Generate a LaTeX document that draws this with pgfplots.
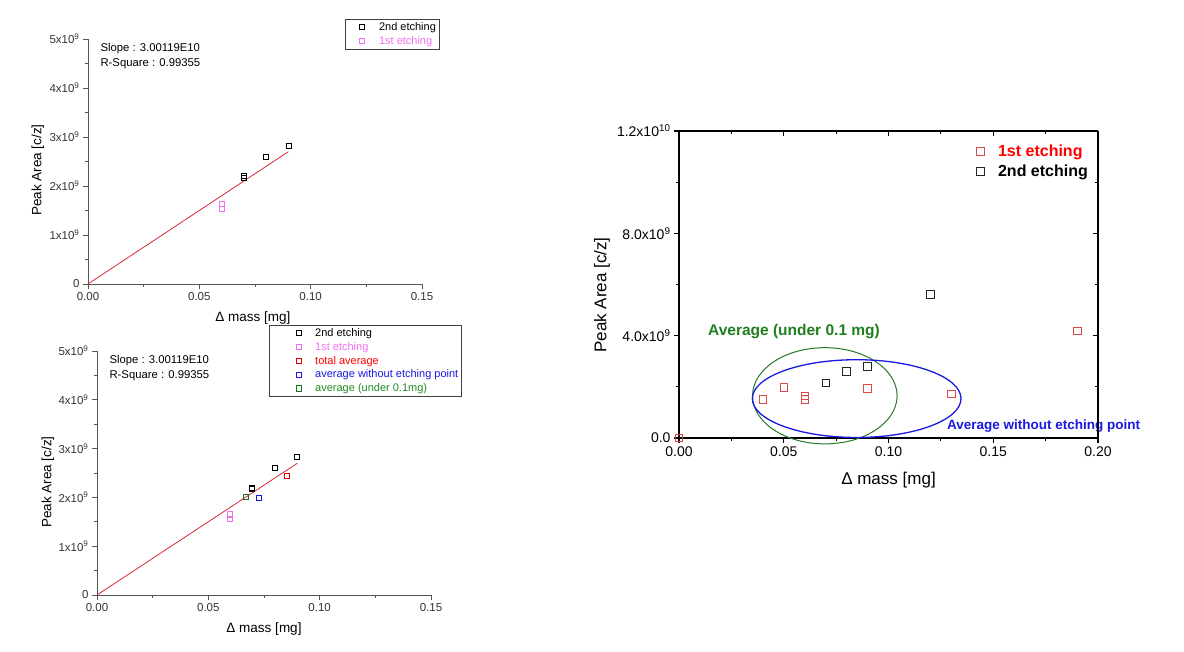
\documentclass[border=0pt]{standalone}
\usepackage{fontspec}
\setmainfont{Liberation Sans}
\usepackage{pgfplots}
\pgfplotsset{compat=1.18}
\definecolor{pinkc}{RGB}{240,110,240}
\definecolor{fitred}{RGB}{215,40,55}
\definecolor{redm}{RGB}{225,70,70}
\definecolor{axgray}{RGB}{85,85,85}
\definecolor{grn}{RGB}{35,140,35}
\definecolor{grnell}{RGB}{40,120,40}
\definecolor{blu}{RGB}{25,25,225}
\pgfplotsset{
 lp/.style={
  scale only axis, width=334pt, anchor=south west,
  axis lines=left, axis line style={-, draw=axgray, line width=0.9pt},
  x axis line style={-}, y axis line style={-},
  xmin=0, xmax=0.15, ymin=0, ymax=5,
  xtick={0,0.05,0.1,0.15}, xticklabels={0.00,0.05,0.10,0.15},
  ytick={0,1,2,3,4,5},
  yticklabels={0,1x10\textsuperscript{9},2x10\textsuperscript{9},3x10\textsuperscript{9},4x10\textsuperscript{9},5x10\textsuperscript{9}},
  minor x tick num=1, minor y tick num=1,
  tick align=outside, major tick length=5pt, minor tick length=3pt,
  every tick/.style={draw=axgray, line width=0.9pt},
  tick label style={font=\fontsize{11.5}{13}\selectfont, text=black!80},
  label style={font=\fontsize{13.5}{16}\selectfont},
  xlabel={Δ mass [mg]},
  ylabel={Peak Area [c/z]},
  legend cell align=left,
  clip=false,
 },
}
\begin{document}
\begin{tikzpicture}[x=1pt,y=1pt]
\useasboundingbox (0,0) rectangle (1184,652);

% ---------------- top-left panel ----------------
\begin{axis}[lp, at={(88pt,368pt)}, height=245pt,
  xlabel style={at={(axis description cs:0.494,-0.1375)}, anchor=center},
  ylabel style={at={(axis description cs:-0.15,0.465)}, anchor=center},
  legend style={at={(0.769,1.082)}, anchor=north west, draw=black!75, fill=white,
     inner sep=1pt, font=\fontsize{11}{13}\selectfont,
     nodes={inner xsep=2pt, inner ysep=2.2pt}, row sep=0pt},
  legend image code/.code={\path[draw=none,fill=none] (0pt,-2pt) rectangle (31pt,2pt); \draw[#1] plot coordinates {(16pt,0pt)};},
]
\addplot[fitred, line width=0.8pt, forget plot] coordinates {(0,0) (0.09,2.701)};
\addplot[only marks, mark=square, mark size=2.6pt, black, mark options={solid, line width=0.6pt}]
  coordinates {(0.07,2.20) (0.07,2.17) (0.08,2.60) (0.09,2.82)};
\addlegendentry{2nd etching}
\addplot[only marks, mark=square, mark size=2.6pt, pinkc, mark options={solid, line width=0.6pt}]
  coordinates {(0.06,1.64) (0.06,1.54)};
\addlegendentry{\textcolor{pinkc}{1st etching}}
\node[anchor=west, font=\fontsize{11.3}{13}\selectfont] at (axis description cs:0.027,0.959) {Slope : 3.00119E10};
\node[anchor=west, font=\fontsize{11.3}{13}\selectfont] at (axis description cs:0.027,0.898) {R-Square : 0.99355};
\end{axis}

% ---------------- bottom-left panel ----------------
\begin{axis}[lp, at={(97pt,57pt)}, height=244pt,
  xlabel style={at={(axis description cs:0.5,-0.139)}, anchor=center},
  ylabel style={at={(axis description cs:-0.147,0.463)}, anchor=center},
  legend style={at={(0.515,1.107)}, anchor=north west, draw=black!75, fill=white,
     inner sep=1pt, font=\fontsize{11}{13}\selectfont,
     nodes={inner xsep=2pt, inner ysep=2.2pt}, row sep=0pt},
  legend image code/.code={\path[draw=none,fill=none] (0pt,-2pt) rectangle (43pt,2pt); \draw[#1] plot coordinates {(29pt,0pt)};},
]
\addplot[fitred, line width=0.8pt, forget plot] coordinates {(0,0) (0.09,2.701)};
\addplot[only marks, mark=square, mark size=2.6pt, black, mark options={solid, line width=1.0pt}]
  coordinates {(0.0697,2.20) (0.0697,2.17) (0.0798,2.60) (0.0899,2.82)};
\addlegendentry{2nd etching}
\addplot[only marks, mark=square, mark size=2.6pt, pinkc, mark options={solid, line width=1.0pt}]
  coordinates {(0.0597,1.65) (0.0597,1.55)};
\addlegendentry{\textcolor{pinkc}{1st etching}}
\addplot[only marks, mark=square, mark size=2.6pt, red!90!black, mark options={solid, line width=1.0pt}]
  coordinates {(0.0852,2.44)};
\addlegendentry{\textcolor{red}{total average}}
\addplot[only marks, mark=square, mark size=2.6pt, blu, mark options={solid, line width=1.0pt}]
  coordinates {(0.0726,1.99)};
\addlegendentry{\textcolor{blu}{average without etching point}}
\addplot[only marks, mark=square, mark size=2.6pt, grn!80!black, mark options={solid, line width=1.0pt}]
  coordinates {(0.0668,2.01)};
\addlegendentry{\textcolor{grn}{average (under 0.1mg)}}
\node[anchor=west, font=\fontsize{11.3}{13}\selectfont] at (axis description cs:0.027,0.960) {Slope : 3.00119E10};
\node[anchor=west, font=\fontsize{11.3}{13}\selectfont] at (axis description cs:0.027,0.898) {R-Square : 0.99355};
\end{axis}

% ---------------- right panel ----------------
\begin{axis}[at={(679pt,214pt)}, anchor=south west, scale only axis, width=419pt, height=307pt,
  xmin=0, xmax=0.2, ymin=0, ymax=12,
  axis x line*=bottom, axis y line*=left,
  axis line style={-, draw=black, line width=1.1pt},
  x axis line style={-}, y axis line style={-},
  xtick={0,0.05,0.1,0.15,0.2}, xticklabels={0.00,0.05,0.10,0.15,0.20},
  ytick={0,4,8,12},
  yticklabels={0.0,4.0x10\textsuperscript{9},8.0x10\textsuperscript{9},1.2x10\textsuperscript{10}},
  minor x tick num=1, minor y tick num=1,
  tick align=outside, major tick length=5pt, minor tick length=3pt,
  every tick/.style={draw=black, line width=1.1pt},
  tick label style={font=\fontsize{14}{16}\selectfont, text=black},
  label style={font=\fontsize{17}{20}\selectfont},
  xlabel={Δ mass [mg]}, ylabel={Peak Area [c/z]},
  xlabel style={at={(axis description cs:0.5,-0.1356)}, anchor=center},
  ylabel style={at={(axis description cs:-0.184,0.466)}, anchor=center},
  clip=false,
  legend cell align=left,
  legend style={at={(0.699,0.966)}, anchor=north west, draw=none, fill=none,
     inner sep=0pt, font=\bfseries\fontsize{16}{19}\selectfont,
     nodes={inner xsep=2pt, inner ysep=3.3pt}, row sep=0pt},
  legend image code/.code={\path[draw=none,fill=none] (0pt,-2pt) rectangle (24pt,2pt); \draw[#1] plot coordinates {(8pt,0pt)};},
]
\addplot[only marks, mark=square, mark size=3.8pt, redm, mark options={solid, line width=0.7pt}]
  coordinates {(0,0) (0.040,1.52) (0.050,1.98) (0.060,1.64) (0.060,1.52) (0.090,1.94) (0.130,1.73) (0.190,4.19)};
\addlegendentry{\textcolor{red}{1st etching}}
\addplot[only marks, mark=square, mark size=3.8pt, black!85, mark options={solid, line width=0.7pt}]
  coordinates {(0.070,2.16) (0.080,2.60) (0.090,2.80) (0.120,5.61)};
\addlegendentry{2nd etching}
\draw[grnell, line width=1pt] (axis cs:0.0696,1.65) ellipse [x radius=0.0345, y radius=1.88];
\draw[blu, line width=1.3pt] (axis cs:0.0848,1.54) ellipse [x radius=0.0498, y radius=1.52];
\node[grn!90!black, font=\bfseries\fontsize{15.5}{18}\selectfont] at (axis cs:0.0549,4.18) {Average (under 0.1 mg)};
\node[blu, font=\bfseries\fontsize{13.5}{16}\selectfont] at (axis cs:0.174,0.48) {Average without etching point};
\end{axis}
\begin{axis}[at={(679pt,214pt)}, anchor=south west, scale only axis, width=419pt, height=307pt,
  xmin=0, xmax=0.2, ymin=0, ymax=12,
  axis x line*=top, axis y line*=right,
  axis line style={-, draw=black, line width=1.1pt},
  x axis line style={-}, y axis line style={-},
  xtick={0,0.05,0.1,0.15,0.2}, ytick={0,4,8,12},
  xticklabels={}, yticklabels={},
  minor x tick num=1, minor y tick num=1,
  tick align=inside, major tick length=5pt, minor tick length=3pt,
  every tick/.style={draw=black, line width=1.1pt},
]
\end{axis}
\end{tikzpicture}
\end{document}
